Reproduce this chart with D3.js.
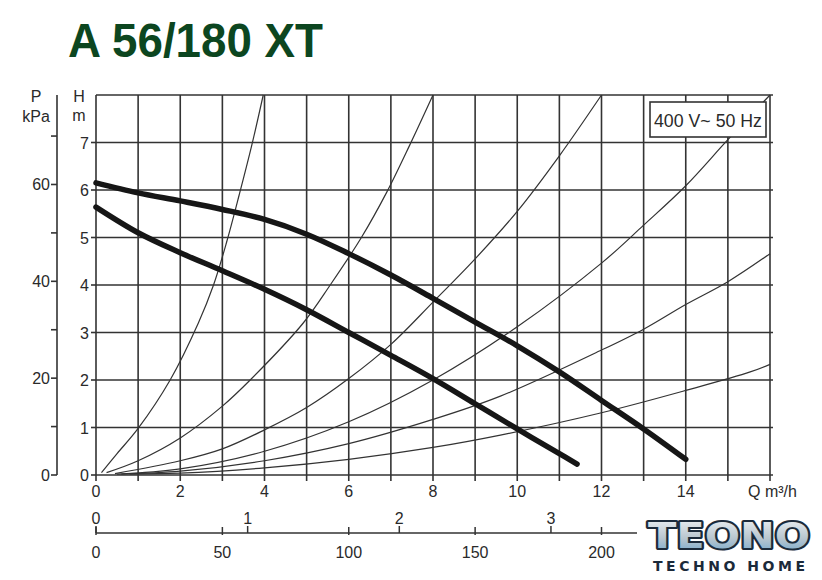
<!DOCTYPE html>
<html>
<head>
<meta charset="utf-8">
<script src="https://cdn.jsdelivr.net/npm/d3@7"></script>
<style>
  body { margin: 0; background: #fff; }
  text { font-family: "Liberation Sans", Arial, sans-serif; fill: #2a2a2a; }
</style>
</head>
<body>
<svg id="chart" width="822" height="580"></svg>
<script>
// pump curves, [Q m3/h, H m]
const pumpHigh = [[0,6.15],[1,5.94],[2,5.77],[3,5.59],[4,5.38],[5,5.07],[6,4.66],[7,4.21],[8,3.72],[9,3.22],[10,2.72],[11,2.17],[12,1.57],[13,0.97],[14,0.33]]
const pumpLow = [[0,5.64],[1,5.1],[2,4.68],[3,4.3],[4,3.91],[5,3.48],[6,3.0],[7,2.52],[8,2.03],[9,1.5],[10,0.97],[11,0.45],[11.42,0.23]]

// system (pipe) curves
const sys1 = [[0.13,0.05],[0.5,0.45],[1,0.98],[1.76,2.0],[2.43,3.2],[2.79,4],[3.1,4.9],[3.4,5.9],[3.7,6.95],[3.97,8]]
const sys2 = [[0.25,0.05],[1,0.3],[2,0.78],[3,1.45],[3.66,2.0],[4.92,3.2],[5.56,4.0],[6.3,5.0],[6.9,5.95],[7.45,6.95],[8,8]]
const sys3 = [[0.45,0.03],[2,0.3],[3,0.55],[4,0.95],[5,1.42],[6,2.03],[7,2.75],[8,3.64],[9,4.55],[10,5.55],[11,6.72],[12,8]]
const sys4 = [[0.5,0.02],[2,0.13],[4,0.5],[6,1.12],[8,2.0],[10,3.12],[12,4.46],[13,5.26],[14,6.09],[15,7.06],[16,8]]
const sys5 = [[0.6,0.02],[2,0.08],[4,0.3],[6,0.66],[8,1.17],[9.6,1.66],[12,2.63],[13,3.07],[14,3.59],[15,4.07],[16,4.66]]
const sys6 = [[0.8,0.02],[2,0.04],[4,0.15],[6,0.33],[8,0.58],[9.6,0.84],[12,1.31],[14,1.78],[15.53,2.17],[16,2.33]]

// tick labels
const qTicks = [0,2,4,6,8,10,12,14]
const hTicks = [0,1,2,3,4,5,6,7]
const pTicks = [0,20,40,60]
const pMinor = [10,30,50,70]
const lsTicks = [0,1,2,3]
const lminTicks = [0,50,100,150,200]

const svg = d3.select("#chart")

const x = d3.scaleLinear().domain([0,16]).range([96,770])
  , y = d3.scaleLinear().domain([0,8]).range([475,95])
  , yP = d3.scaleLinear().domain([0,8*9.81]).range([475,95])
  , xLs = d3.scaleLinear().domain([0,16/3.6]).range([96,770])
  , xLmin = d3.scaleLinear().domain([0,16*1000/60]).range([96,770]);

//title
svg.append("text").attr("x",68).attr("y",57)
  .attr("textLength",255).attr("lengthAdjust","spacingAndGlyphs")
  .style("font-size","48px").style("font-weight","bold").style("fill","#0c4620")
  .text("A 56/180 XT")

//grid
const grid = svg.append("g").attr("stroke","#333").attr("stroke-width",1.6)
grid.selectAll(".gv").data(d3.range(0,17)).enter().append("line")
  .attr("x1",d=>x(d)).attr("x2",d=>x(d)).attr("y1",y(8)).attr("y2",y(0))
grid.selectAll(".gh").data(d3.range(0,9)).enter().append("line")
  .attr("x1",x(0)).attr("x2",x(16)+3).attr("y1",d=>y(d)).attr("y2",d=>y(d))

//Q ticks
grid.selectAll(".qt").data(d3.range(0,17)).enter().append("line")
  .attr("x1",d=>x(d)).attr("x2",d=>x(d)).attr("y1",y(0)).attr("y2",y(0)+6)
svg.selectAll(".ql").data(qTicks).enter().append("text")
  .attr("x",d=>x(d)).attr("y",497).attr("text-anchor","middle")
  .style("font-size","16px").text(d=>d)
svg.append("text").attr("x",748).attr("y",497).style("font-size","16px").text("Q m³/h")

//H axis
grid.selectAll(".ht").data(hTicks).enter().append("line")
  .attr("x1",x(0)-5).attr("x2",x(0)).attr("y1",d=>y(d)).attr("y2",d=>y(d))
svg.selectAll(".hl").data(hTicks).enter().append("text")
  .attr("x",89).attr("y",d=>y(d)+6).attr("text-anchor","end")
  .style("font-size","16px").text(d=>d)
svg.append("text").attr("x",79).attr("y",102).attr("text-anchor","middle").style("font-size","16px").text("H")
svg.append("text").attr("x",79).attr("y",121).attr("text-anchor","middle").style("font-size","16px").text("m")

//P axis
const pAxis = svg.append("g").attr("stroke","#333").attr("stroke-width",1.6)
pAxis.append("line").attr("x1",57).attr("x2",57).attr("y1",95).attr("y2",yP(0))
pAxis.selectAll(".pt").data(pTicks.concat(pMinor)).enter().append("line")
  .attr("x1",51).attr("x2",57).attr("y1",d=>yP(d)).attr("y2",d=>yP(d))
svg.selectAll(".pl").data(pTicks).enter().append("text")
  .attr("x",50).attr("y",d=>yP(d)+6).attr("text-anchor","end")
  .style("font-size","16px").text(d=>d)
svg.append("text").attr("x",36).attr("y",102).attr("text-anchor","middle").style("font-size","16px").text("P")
svg.append("text").attr("x",36).attr("y",122).attr("text-anchor","middle").style("font-size","16px").text("kPa")

//second flow axis (l/s above, l/min below)
const fAxis = svg.append("g").attr("stroke","#333").attr("stroke-width",1.5)
fAxis.append("line").attr("x1",x(0)).attr("x2",637).attr("y1",533).attr("y2",533)
fAxis.selectAll(".lst").data(lsTicks).enter().append("line")
  .attr("x1",d=>xLs(d)).attr("x2",d=>xLs(d)).attr("y1",526).attr("y2",533)
fAxis.selectAll(".lmt").data(lminTicks).enter().append("line")
  .attr("x1",d=>xLmin(d)).attr("x2",d=>xLmin(d)).attr("y1",527).attr("y2",535)
svg.selectAll(".lsl").data(lsTicks).enter().append("text")
  .attr("x",d=>xLs(d)).attr("y",524).attr("text-anchor","middle")
  .style("font-size","16px").text(d=>d)
svg.selectAll(".lml").data(lminTicks).enter().append("text")
  .attr("x",d=>xLmin(d)).attr("y",558).attr("text-anchor","middle")
  .style("font-size","16px").text(d=>d)

//curves
const line = d3.line().x(d=>x(d[0])).y(d=>y(d[1])).curve(d3.curveCatmullRom.alpha(0.5))

svg.append("g").selectAll("path").data([sys1,sys2,sys3,sys4,sys5,sys6]).enter().append("path")
  .attr("d",line).attr("fill","none").attr("stroke","#333").attr("stroke-width",1.2)

svg.append("g").selectAll("path").data([pumpHigh,pumpLow]).enter().append("path")
  .attr("d",line).attr("fill","none").attr("stroke","#161616")
  .attr("stroke-width",5.5).attr("stroke-linecap","round")

//voltage box
svg.append("rect").attr("x",650).attr("y",102).attr("width",116).attr("height",35)
  .attr("fill","#fff").attr("stroke","#333").attr("stroke-width",1.6)
svg.append("text").attr("x",708).attr("y",127).attr("text-anchor","middle")
  .attr("textLength",108).attr("lengthAdjust","spacingAndGlyphs")
  .style("font-size","19px").text("400 V~ 50 Hz")

//logo
const defs = svg.append("defs")
const grad = defs.append("linearGradient").attr("id","logoGrad").attr("x1",0).attr("y1",0).attr("x2",0).attr("y2",1)
grad.append("stop").attr("offset","0%").attr("stop-color","#eef2f5")
grad.append("stop").attr("offset","55%").attr("stop-color","#b9c6cf")
grad.append("stop").attr("offset","100%").attr("stop-color","#6fa6cc")
svg.append("text").attr("x",648).attr("y",548)
  .attr("textLength",162).attr("lengthAdjust","spacingAndGlyphs")
  .style("font-family","'DejaVu Sans', sans-serif").style("font-weight","bold").style("font-size","35px")
  .style("fill","url(#logoGrad)").style("stroke","#1b2a3a").style("stroke-width",4)
  .style("paint-order","stroke").style("stroke-linejoin","round")
  .text("TEONO")
svg.append("text").attr("x",653).attr("y",571)
  .attr("textLength",152).attr("lengthAdjust","spacing")
  .style("font-family","'DejaVu Sans', sans-serif").style("font-weight","bold").style("font-size","14px")
  .style("fill","#1b2a3a").text("TECHNO HOME")
</script>
</body>
</html>
